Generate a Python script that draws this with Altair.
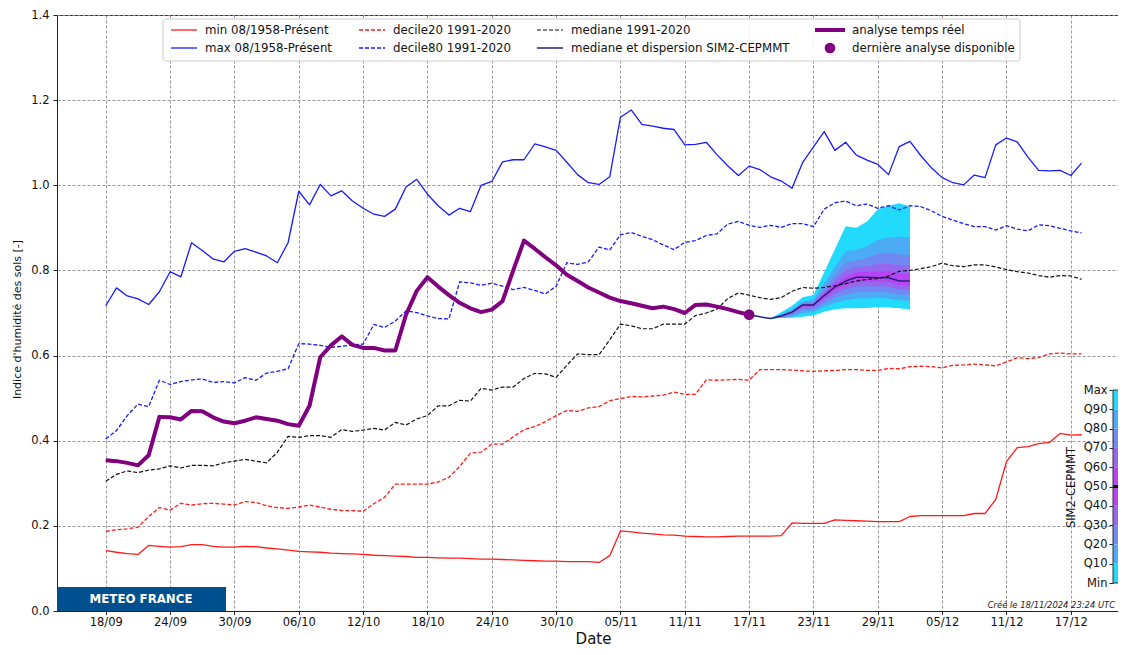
import altair as alt
import pandas as pd

DAY0 = pd.Timestamp("2024-09-18")

# ---- daily climatology / analysis values (day 0 = 18/09/2024) ----
min_1958 = [0.142, 0.138, 0.135, 0.133, 0.154, 0.152, 0.150, 0.151, 0.156, 0.156, 0.152, 0.150, 0.150,
            0.152, 0.151, 0.148, 0.146, 0.143, 0.140, 0.139, 0.138, 0.136, 0.135, 0.134, 0.133, 0.131,
            0.130, 0.129, 0.128, 0.126, 0.126, 0.125, 0.124, 0.124, 0.123, 0.122, 0.122, 0.121, 0.120,
            0.119, 0.118, 0.117, 0.117, 0.116, 0.116, 0.116, 0.114, 0.130, 0.188, 0.186, 0.183,
            0.181, 0.179, 0.178, 0.176, 0.175, 0.174, 0.174, 0.175, 0.176, 0.176, 0.176, 0.176, 0.177,
            0.207, 0.206, 0.206, 0.206, 0.214, 0.213, 0.212, 0.211, 0.210, 0.210, 0.210, 0.222,
            0.224, 0.224, 0.224, 0.224, 0.224, 0.229, 0.229, 0.262, 0.351, 0.384, 0.386, 0.393,
            0.396, 0.417, 0.413, 0.414]
max_1958 = [0.717, 0.759, 0.740, 0.733, 0.720, 0.750, 0.797, 0.785, 0.865, 0.847, 0.827, 0.820, 0.845,
            0.851, 0.843, 0.834, 0.818, 0.865, 0.986, 0.954, 1.002, 0.975, 0.987, 0.963, 0.946, 0.932,
            0.927, 0.944, 0.996, 1.014, 0.979, 0.952, 0.930, 0.946, 0.938, 1.000, 1.009, 1.055, 1.060,
            1.060, 1.097, 1.090, 1.082, 1.054, 1.025, 1.006, 1.002, 1.020, 1.160, 1.177, 1.143,
            1.139, 1.134, 1.131, 1.095, 1.096, 1.101, 1.072, 1.046, 1.023, 1.045, 1.037, 1.020, 1.010,
            0.993, 1.054, 1.090, 1.126, 1.082, 1.101, 1.071, 1.059, 1.049, 1.025, 1.091, 1.103,
            1.070, 1.041, 1.018, 1.006, 1.001, 1.024, 1.018, 1.095, 1.111, 1.102, 1.066, 1.035,
            1.034, 1.035, 1.023, 1.052]
decile20 = [0.187, 0.191, 0.193, 0.197, 0.222, 0.243, 0.237, 0.253, 0.249, 0.252, 0.253, 0.251, 0.249,
            0.257, 0.255, 0.247, 0.243, 0.241, 0.244, 0.249, 0.244, 0.239, 0.236, 0.236, 0.234, 0.252,
            0.267, 0.298, 0.298, 0.298, 0.298, 0.303, 0.314, 0.339, 0.371, 0.373, 0.392, 0.392, 0.409,
            0.426, 0.433, 0.445, 0.459, 0.471, 0.469, 0.477, 0.480, 0.494, 0.499, 0.504, 0.503,
            0.505, 0.507, 0.514, 0.509, 0.509, 0.543, 0.542, 0.543, 0.544, 0.542, 0.567, 0.567, 0.567,
            0.566, 0.564, 0.563, 0.564, 0.565, 0.567, 0.567, 0.565, 0.565, 0.570, 0.569, 0.574,
            0.575, 0.574, 0.571, 0.577, 0.578, 0.580, 0.578, 0.576, 0.585, 0.595, 0.593, 0.595,
            0.604, 0.606, 0.604, 0.604]
decile80 = [0.404, 0.424, 0.459, 0.486, 0.480, 0.542, 0.532, 0.539, 0.543, 0.545, 0.537, 0.539, 0.536,
            0.548, 0.542, 0.559, 0.563, 0.569, 0.628, 0.627, 0.624, 0.619, 0.622, 0.625, 0.627, 0.673,
            0.666, 0.681, 0.705, 0.701, 0.693, 0.687, 0.686, 0.773, 0.771, 0.765, 0.770, 0.763, 0.755,
            0.760, 0.753, 0.745, 0.763, 0.818, 0.814, 0.820, 0.855, 0.848, 0.884, 0.889, 0.880,
            0.872, 0.860, 0.849, 0.866, 0.870, 0.882, 0.886, 0.909, 0.915, 0.906, 0.901, 0.906, 0.901,
            0.910, 0.910, 0.903, 0.944, 0.959, 0.963, 0.952, 0.956, 0.946, 0.952, 0.942, 0.952,
            0.950, 0.940, 0.927, 0.918, 0.910, 0.903, 0.903, 0.895, 0.905, 0.897, 0.893, 0.907,
            0.905, 0.899, 0.893, 0.888]
median_clim = [0.305, 0.321, 0.329, 0.325, 0.331, 0.334, 0.341, 0.336, 0.342, 0.342, 0.341, 0.348, 0.352,
               0.356, 0.352, 0.348, 0.373, 0.410, 0.408, 0.412, 0.412, 0.408, 0.426, 0.422, 0.425, 0.429,
               0.425, 0.443, 0.437, 0.451, 0.459, 0.482, 0.482, 0.495, 0.493, 0.523, 0.519, 0.526, 0.526,
               0.546, 0.558, 0.557, 0.549, 0.577, 0.604, 0.602, 0.602, 0.637, 0.674, 0.670, 0.663,
               0.663, 0.674, 0.674, 0.674, 0.694, 0.700, 0.709, 0.734, 0.747, 0.742, 0.736, 0.732, 0.736,
               0.751, 0.760, 0.758, 0.760, 0.764, 0.769, 0.775, 0.779, 0.781, 0.787, 0.798, 0.800,
               0.804, 0.809, 0.817, 0.811, 0.809, 0.813, 0.813, 0.808, 0.802, 0.797, 0.794, 0.788,
               0.784, 0.788, 0.787, 0.779]
analysis = [0.354, 0.352, 0.348, 0.342, 0.366, 0.456, 0.455, 0.450, 0.470, 0.469, 0.455, 0.445, 0.441,
            0.447, 0.455, 0.451, 0.447, 0.439, 0.435, 0.482, 0.596, 0.624, 0.645, 0.625, 0.618, 0.618,
            0.612, 0.612, 0.696, 0.752, 0.784, 0.762, 0.742, 0.724, 0.711, 0.702, 0.708, 0.728, 0.800,
            0.870, 0.851, 0.831, 0.812, 0.790, 0.775, 0.760, 0.748, 0.736, 0.728, 0.723, 0.717,
            0.711, 0.715, 0.709, 0.700, 0.719, 0.720, 0.715, 0.709, 0.702, 0.696]
last_day = 60
sim2_median = [0.696, 0.691, 0.687, 0.693, 0.702, 0.719, 0.719, 0.741, 0.761, 0.775, 0.784, 0.784,
               0.783, 0.783, 0.775, 0.775]          # days 60..75
fan_start = 62                                        # days 62..75
fan_max = [0.687, 0.702, 0.717, 0.737, 0.742, 0.796, 0.850, 0.904, 0.900, 0.915, 0.944, 0.952, 0.958, 0.950]
fan_q90 = [0.687, 0.697, 0.709, 0.727, 0.731, 0.770, 0.808, 0.845, 0.848, 0.856, 0.872, 0.877, 0.879, 0.878]
fan_q80 = [0.687, 0.695, 0.706, 0.724, 0.726, 0.758, 0.790, 0.818, 0.824, 0.829, 0.839, 0.842, 0.838, 0.835]
fan_q70 = [0.687, 0.694, 0.704, 0.722, 0.723, 0.750, 0.776, 0.799, 0.808, 0.810, 0.815, 0.816, 0.812, 0.812]
fan_q60 = [0.687, 0.693, 0.703, 0.720, 0.721, 0.745, 0.768, 0.786, 0.796, 0.797, 0.798, 0.799, 0.793, 0.793]
fan_q40 = [0.687, 0.692, 0.700, 0.715, 0.716, 0.735, 0.752, 0.765, 0.774, 0.774, 0.773, 0.773, 0.765, 0.765]
fan_q30 = [0.687, 0.691, 0.698, 0.711, 0.712, 0.729, 0.745, 0.756, 0.763, 0.763, 0.763, 0.762, 0.755, 0.754]
fan_q20 = [0.687, 0.690, 0.695, 0.706, 0.707, 0.722, 0.735, 0.743, 0.749, 0.749, 0.749, 0.748, 0.743, 0.742]
fan_q10 = [0.687, 0.689, 0.692, 0.700, 0.702, 0.714, 0.724, 0.730, 0.734, 0.734, 0.735, 0.734, 0.730, 0.729]
fan_min = [0.687, 0.688, 0.689, 0.691, 0.694, 0.703, 0.709, 0.711, 0.711, 0.712, 0.714, 0.713, 0.711, 0.708]

quantile_labels = ["Min", "Q10", "Q20", "Q30", "Q40", "Q50", "Q60", "Q70", "Q80", "Q90", "Max"]
band_colors = ["#22dafb", "#4cabf5", "#7189f2", "#9767f0", "#b744f5",
               "#b744f5", "#9767f0", "#7189f2", "#4cabf5", "#22dafb"]

RED, BLUE, BLACK, PURPLE, NAVY = "#ff1a1a", "#1a1aff", "#111111", "#800080", "#23237d"
FONT = "DejaVu Sans"
W, H = 1061, 596


def iso(d):
    return (DAY0 + pd.Timedelta(days=d)).strftime("%Y-%m-%dT00:00:00Z")


def dt(ts):
    return alt.DateTime(year=ts.year, month=ts.month, date=ts.day,
                        hours=ts.hour, minutes=ts.minute, utc=True)


clim = pd.DataFrame({"date": [iso(d) for d in range(len(min_1958))],
                     "mn": min_1958, "mx": max_1958, "d20": decile20,
                     "d80": decile80, "med": median_clim})
ana = pd.DataFrame({"date": [iso(d) for d in range(len(analysis))], "v": analysis})
last = pd.DataFrame({"date": [iso(last_day)], "v": [analysis[last_day]]})
sim = pd.DataFrame({"date": [iso(last_day + i) for i in range(len(sim2_median))], "v": sim2_median})
fan = pd.DataFrame({"date": [iso(fan_start + i) for i in range(len(fan_max))],
                    "mx": fan_max, "q90": fan_q90, "q80": fan_q80, "q70": fan_q70, "q60": fan_q60,
                    "q40": fan_q40, "q30": fan_q30, "q20": fan_q20, "q10": fan_q10, "mn": fan_min})

xscale = alt.Scale(type="utc", domain=[dt(DAY0 - pd.Timedelta(hours=109.2)),
                                       dt(DAY0 + pd.Timedelta(hours=2265.6))])
xaxis = alt.Axis(values=[dt(DAY0 + pd.Timedelta(days=6 * k)) for k in range(16)],
                 format="%d/%m", title="Date", titleFontSize=15, titleFontWeight="normal",
                 titleX=536, titleY=32.4, titleBaseline="alphabetic", titleColor="#111",
                 labelFontSize=11.5, labelColor="#111", labelPadding=1.5, tickSize=3.5,
                 grid=True, gridDash=[3, 2], gridColor="#8c8c8c", gridWidth=0.9,
                 domainColor="#222", tickColor="#222")
yscale = alt.Scale(domain=[0, 1.4], nice=False, zero=False)
yaxis = alt.Axis(values=[0, 0.2, 0.4, 0.6, 0.8, 1.0, 1.2, 1.4], format=".1f",
                 title="Indice d'humidité des sols  [-]", titleFontSize=11, titleFontWeight="normal",
                 titleX=-40, titleY=304, titleAngle=-90, titleBaseline="middle", titleColor="#111",
                 labelFontSize=11.5, labelColor="#111", labelPadding=4, tickSize=4,
                 grid=True, gridDash=[3, 2], gridColor="#8c8c8c", gridWidth=0.9,
                 domainColor="#222", tickColor="#222")

X = alt.X("date:T", scale=xscale, axis=xaxis)


def Y(field):
    return alt.Y(f"{field}:Q", scale=yscale, axis=yaxis)


def band(lo, hi, color):
    return alt.Chart(fan).mark_area(color=color, opacity=1, interpolate="linear").encode(
        x=X, y=Y(hi), y2=alt.Y2(lo))


def line(df, field, color, width, dash=None):
    kw = dict(color=color, strokeWidth=width, strokeJoin="round")
    if dash:
        kw["strokeDash"] = dash
    return alt.Chart(df).mark_line(**kw).encode(x=X, y=Y(field))


one = pd.DataFrame({"k": [0]})


def leg_rule(x1, x2, y, color, width=1.3, dash=None):
    kw = dict(color=color, strokeWidth=width)
    if dash:
        kw["strokeDash"] = dash
    return alt.Chart(one).mark_rule(**kw).encode(x=alt.value(x1), x2=alt.value(x2), y=alt.value(y))


def leg_text(x, y, label):
    return alt.Chart(one).mark_text(text=label, align="left", baseline="middle", fontSize=11.8,
                                    color="#111", font=FONT).encode(x=alt.value(x), y=alt.value(y))


DASH = [4, 2]
R1, R2 = 15, 33
main_layers = [
    band("mn", "mx", band_colors[0]),
    band("q10", "q90", band_colors[1]),
    band("q20", "q80", band_colors[2]),
    band("q30", "q70", band_colors[3]),
    band("q40", "q60", band_colors[4]),
    line(clim, "mn", RED, 1.3),
    line(clim, "mx", BLUE, 1.3),
    line(clim, "d20", RED, 1.3, DASH),
    line(clim, "d80", BLUE, 1.3, DASH),
    line(sim, "v", NAVY, 1.5),
    line(clim, "med", BLACK, 1.2, DASH),
    line(ana, "v", PURPLE, 4),
    alt.Chart(last).mark_circle(size=115, color=PURPLE, opacity=1).encode(x=X, y=Y("v")),
    # legend box
    alt.Chart(one).mark_rect(fill="white", fillOpacity=0.85, stroke="#cccccc", strokeWidth=1,
                             cornerRadius=3).encode(x=alt.value(106), x2=alt.value(963),
                                                    y=alt.value(4), y2=alt.value(46)),
    leg_rule(114, 140, R1, RED), leg_text(148, R1, "min 08/1958-Présent"),
    leg_rule(114, 140, R2, BLUE), leg_text(148, R2, "max 08/1958-Présent"),
    leg_rule(302, 328, R1, RED, dash=DASH), leg_text(336, R1, "decile20 1991-2020"),
    leg_rule(302, 328, R2, BLUE, dash=DASH), leg_text(336, R2, "decile80 1991-2020"),
    leg_rule(480, 506, R1, BLACK, 1.2, DASH), leg_text(514, R1, "mediane 1991-2020"),
    leg_rule(480, 506, R2, NAVY, 1.5), leg_text(514, R2, "mediane et dispersion SIM2-CEPMMT"),
    leg_rule(758, 788, R1, PURPLE, 4), leg_text(795, R1, "analyse temps réel"),
    alt.Chart(one).mark_circle(size=115, color=PURPLE, opacity=1).encode(
        x=alt.value(773), y=alt.value(R2)),
    leg_text(795, R2, "dernière analyse disponible"),
    # logo and credit
    alt.Chart(one).mark_rect(fill="#00508f").encode(x=alt.value(0), x2=alt.value(169),
                                                    y=alt.value(572), y2=alt.value(596)),
    alt.Chart(one).mark_text(text="METEO FRANCE", fontSize=11.8, fontWeight="bold", color="white",
                             font=FONT, align="center", baseline="middle").encode(
        x=alt.value(84), y=alt.value(584)),
    alt.Chart(one).mark_text(text="Créé le 18/11/2024 23:24 UTC", fontSize=8.4, fontStyle="italic",
                             color="#222", font=FONT, align="right", baseline="alphabetic").encode(
        x=alt.value(1058), y=alt.value(593)),
]
main = alt.layer(*main_layers)

# ---- colour bar of the SIM2-CEPMMT quantiles ----
cb = pd.DataFrame({"lo": list(range(10)), "hi": list(range(1, 11)), "c": band_colors})
cb_scale = alt.Scale(domain=[0, 10], range=[568, 375], nice=False, zero=False)
label_expr = "[" + ",".join(f"'{q}'" for q in quantile_labels) + "][datum.value]"
CB_X0, CB_X1 = 1056, 1061
cb_axis = alt.Axis(orient="left", offset=-CB_X0, values=list(range(11)), labelExpr=label_expr,
                   grid=False, tickSize=4, labelFontSize=11.5, labelColor="#111", labelPadding=2,
                   domain=False, tickColor="#222", title="SIM2-CEPMMT", titleFontSize=11.5,
                   titleFontWeight="normal", titleColor="#111", titleX=-42, titleY=472,
                   titleAngle=-90, titleBaseline="middle")
CBY = alt.Y("lo:Q", scale=cb_scale, axis=cb_axis)
colorbar = alt.layer(
    alt.Chart(cb).mark_rect().encode(y=CBY, y2="hi:Q", x=alt.value(CB_X0), x2=alt.value(CB_X1),
                                     color=alt.Color("c:N", scale=None)),
    alt.Chart(pd.DataFrame({"lo": [5]})).mark_rule(color="black", strokeWidth=3).encode(
        y=CBY, x=alt.value(CB_X0), x2=alt.value(CB_X1)),
    alt.Chart(pd.DataFrame({"lo": [0], "hi": [10]})).mark_rect(
        fillOpacity=0, stroke="#333", strokeWidth=1).encode(
        y=CBY, y2="hi:Q", x=alt.value(CB_X0), x2=alt.value(CB_X1 + 2)),
)

chart = alt.layer(main, colorbar).resolve_scale(y="independent").properties(
    width=W, height=H, autosize=alt.AutoSizeParams(type="none"),
    padding={"left": 49, "top": 7, "right": 0, "bottom": 36},
).configure(font=FONT, background="white").configure_view(stroke="#222", strokeWidth=1)

chart.save("out.html", embed_options={"renderer": "svg", "actions": False})
